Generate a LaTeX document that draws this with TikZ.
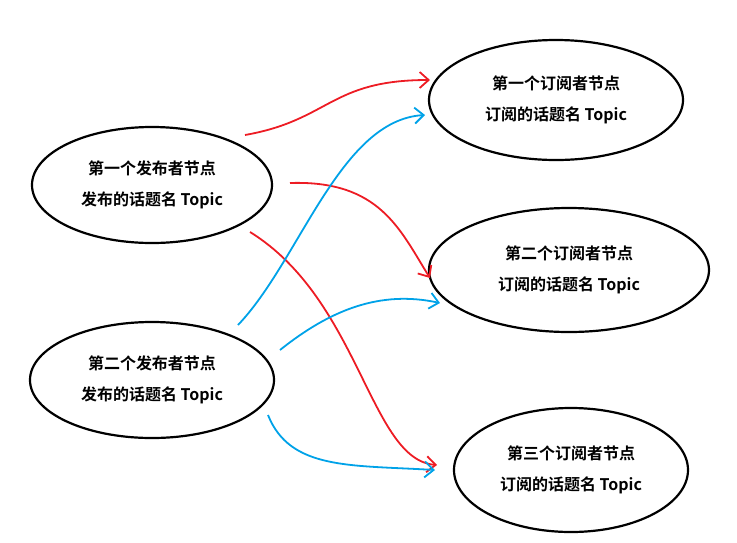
\documentclass[tikz,border=0pt]{standalone}
\usepackage{fontspec}
\newfontfamily\cjk{Noto Sans CJK SC}[BoldFont={Noto Sans CJK SC Bold}]
\usetikzlibrary{shapes.geometric,arrows.meta}
\definecolor{rd}{RGB}{237,28,36}
\definecolor{bl}{RGB}{0,162,232}
\begin{document}
\begin{tikzpicture}[x=1pt,y=-1pt,
  el/.style={draw,ellipse,line width=2.2pt,align=center,font=\cjk\bfseries\fontsize{16}{31}\selectfont,inner sep=0pt},
  ra/.style={draw=rd,line width=1.8pt,-{Straight Barb[length=9pt,width=16pt]}},
  ba/.style={draw=bl,line width=1.8pt,-{Straight Barb[length=9pt,width=16pt]}}]
\useasboundingbox (0,0) rectangle (737,542);
\node[el,minimum width=240,minimum height=116] (p1) at (152,185) {第一个发布者节点\\发布的话题名 Topic};
\node[el,minimum width=244,minimum height=116] (p2) at (152,380) {第二个发布者节点\\发布的话题名 Topic};
\node[el,minimum width=254,minimum height=120] (s1) at (556,100) {第一个订阅者节点\\订阅的话题名 Topic};
\node[el,minimum width=280,minimum height=124] (s2) at (569,270) {第二个订阅者节点\\订阅的话题名 Topic};
\node[el,minimum width=234,minimum height=124] (s3) at (571,470) {第三个订阅者节点\\订阅的话题名 Topic};
\coordinate (a1) at (245,135); \coordinate (a2) at (290,183); \coordinate (a3) at (250,232);
\coordinate (b1) at (238,325); \coordinate (b2) at (280,350); \coordinate (b3) at (268,415);
\coordinate (e1) at (430,80); \coordinate (e2) at (430,278); \coordinate (e3) at (437,465);
\coordinate (f1) at (425,115); \coordinate (f2) at (440,303); \coordinate (f3) at (435,470);
\draw[ra] (a1) .. controls (330,120) and (330,80) .. (e1);
\draw[ra] (a2) .. controls (380,180) and (400,230) .. (e2);
\draw[ra] (a3) .. controls (360,300) and (370,460) .. (e3);
\draw[ba] (b1) .. controls (300,260) and (340,120) .. (f1);
\draw[ba] (b2) .. controls (330,310) and (380,290) .. (f2);
\draw[ba] (b3) .. controls (290,470) and (350,465) .. (f3);
\end{tikzpicture}
\end{document}
